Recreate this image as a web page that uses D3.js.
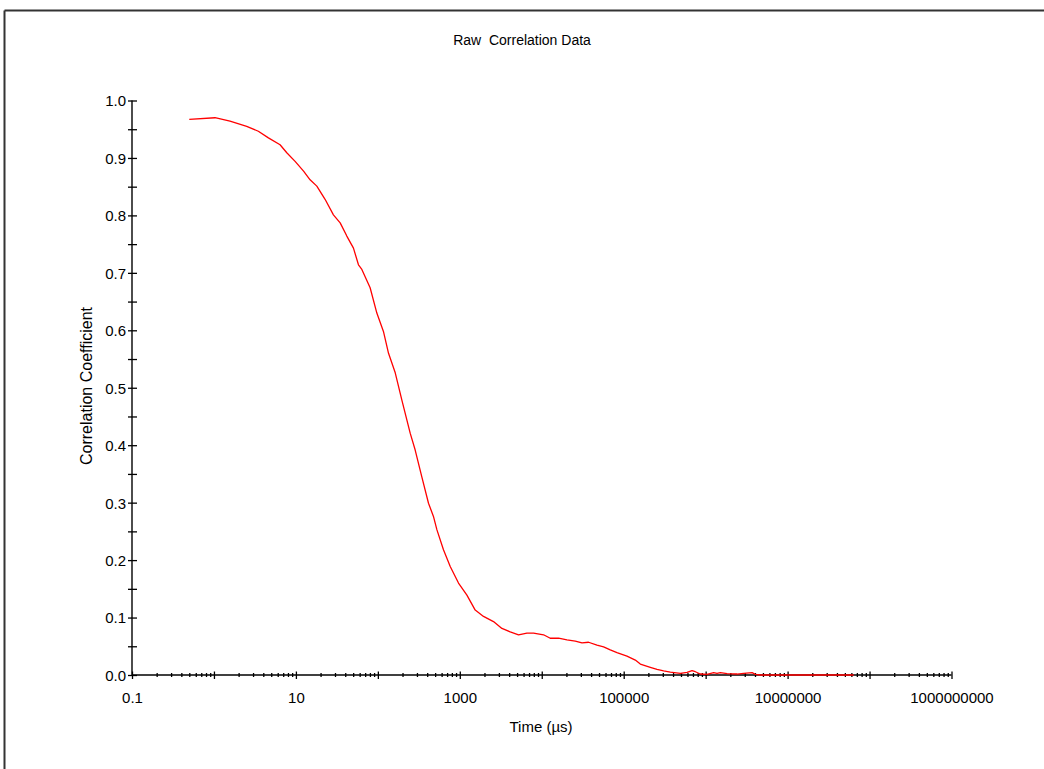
<!DOCTYPE html>
<html>
<head>
<meta charset="utf-8">
<script src="https://cdn.jsdelivr.net/npm/d3@7"></script>
<style>
  html, body { margin: 0; padding: 0; background: #fff; }
  svg { display: block; font-family: "Liberation Sans", Arial, sans-serif; }
</style>
</head>
<body>
<svg id="chart" width="1044" height="769"></svg>
<script>
// Delay times (µs) of the correlogram
const timeUs = [
  0.50, 1.03, 1.57, 2.51, 3.48, 4.62, 6.41, 7.74, 9.78, 12.4,
  14.9, 18.0, 22.7, 28.7, 34.7, 41.8, 50.4, 58.0, 63.8, 80.5,
  97.2, 117, 135, 163, 196, 248, 285, 344, 415, 477,
  525, 632, 764, 964, 1221, 1542, 1946, 2577, 3266, 4123,
  5212, 6592, 7943, 10520, 12700, 16030, 20320, 25650, 30970, 37240,
  47210, 56880, 68560, 82790, 109600, 138600, 159500, 211300, 255100, 306900,
  370700, 491000, 592900, 682300, 748200, 861000, 1040000, 1253000, 1377000, 1510000,
  1825000, 2416000, 2911000, 3687000, 4045000, 4650000, 7000000, 1.2e7, 2.2e7, 4.0e7,
  6.4e7
];
// Correlation coefficient at each delay time
const corrCoeff = [
  0.967, 0.970, 0.964, 0.955, 0.9465, 0.935, 0.923, 0.909, 0.894, 0.877,
  0.862, 0.851, 0.828, 0.801, 0.787, 0.764, 0.743, 0.714, 0.706, 0.674,
  0.630, 0.598, 0.560, 0.526, 0.479, 0.421, 0.392, 0.345, 0.299, 0.276,
  0.253, 0.218, 0.189, 0.160, 0.139, 0.113, 0.102, 0.093, 0.081, 0.075,
  0.070, 0.073, 0.073, 0.070, 0.064, 0.064, 0.061, 0.059, 0.056, 0.057,
  0.052, 0.049, 0.0436, 0.039, 0.033, 0.026, 0.019, 0.0134, 0.0099, 0.007,
  0.005, 0.003, 0.0047, 0.0075, 0.0057, 0.0017, 0.0012, 0.004, 0.003, 0.004,
  0.0023, 0.0017, 0.003, 0.004, 0.0012, 0.0, 0.0, 0.0, 0.0, 0.0,
  0.0
];
// Labelled x ticks (every second decade) and y tick values
const xTickLabels = [0.1, 10, 1000, 100000, 10000000, 1000000000];
const yMajorTicks = [0.0, 0.1, 0.2, 0.3, 0.4, 0.5, 0.6, 0.7, 0.8, 0.9, 1.0];
const yMinorTicks = [0.05, 0.15, 0.25, 0.35, 0.45, 0.55, 0.65, 0.75, 0.85, 0.95];

const svg = d3.select("#chart");

// Outer frame (top and left edges)
svg.append("line").attr("x1", 4.5).attr("y1", 10.5).attr("x2", 1044).attr("y2", 10.5)
  .attr("stroke", "#333").attr("stroke-width", 2);
svg.append("line").attr("x1", 4.5).attr("y1", 10.5).attr("x2", 4.5).attr("y2", 769)
  .attr("stroke", "#333").attr("stroke-width", 2);

const x = d3.scaleLog().domain([0.1, 1e9]).range([132, 951.5]);
const y = d3.scaleLinear().domain([0, 1]).range([675, 100.5]);

// All decade and sub-decade tick positions
const xAllTicks = [];
for (let e = -1; e < 9; e++) {
  for (let m = 1; m <= 9; m++) xAllTicks.push(m * Math.pow(10, e));
}
xAllTicks.push(1e9);
const isDecade = v => Math.abs(Math.log10(v) - Math.round(Math.log10(v))) < 1e-9;

// X axis
const gx = svg.append("g").attr("transform", `translate(0,${y(0)})`)
  .call(d3.axisBottom(x).tickValues(xAllTicks).tickSizeOuter(0));
gx.select(".domain").attr("stroke", "#000").attr("stroke-width", 1.4).attr("d", `M${x(0.1)},0H${x(1e9)}`);
gx.selectAll(".tick line").attr("stroke", "#000").attr("stroke-width", 1.3)
  .attr("y1", d => isDecade(d) ? -3.5 : -2)
  .attr("y2", d => isDecade(d) ? 4 : 2);
gx.selectAll(".tick text")
  .text(d => {
    const lab = xTickLabels.find(t => Math.abs(t - d) / t < 1e-9);
    return lab === undefined ? "" : String(lab);
  })
  .attr("y", 28).attr("dy", 0)
  .attr("font-size", 15).attr("font-family", "'Liberation Sans', Arial, sans-serif").attr("fill", "#000");

// Y axis
const gy = svg.append("g").attr("transform", `translate(${x(0.1)},0)`)
  .call(d3.axisLeft(y).tickValues(yMajorTicks.concat(yMinorTicks)).tickSizeOuter(0)
    .tickFormat(d => yMajorTicks.includes(d) ? d3.format(".1f")(d) : ""));
gy.select(".domain").attr("stroke", "#000").attr("stroke-width", 1.4).attr("d", `M0,${y(0)}V${y(1)}`);
gy.selectAll(".tick line").attr("stroke", "#000").attr("stroke-width", 1.3)
  .attr("x1", -4).attr("x2", 5);
gy.selectAll(".tick text")
  .attr("x", -6).attr("dy", "0.36em")
  .attr("font-size", 15).attr("font-family", "'Liberation Sans', Arial, sans-serif").attr("fill", "#000");

// Correlation curve
const points = timeUs.map((t, i) => [t, corrCoeff[i]]);
svg.append("path")
  .datum(points)
  .attr("fill", "none")
  .attr("stroke", "#ff0000")
  .attr("stroke-width", 1.3)
  .attr("stroke-linejoin", "round")
  .attr("d", d3.line().x(d => x(d[0])).y(d => y(d[1])));

// Titles
svg.append("text").attr("x", 522).attr("y", 45).attr("text-anchor", "middle")
  .attr("font-size", 14).attr("fill", "#000")
  .style("white-space", "pre").text("Raw  Correlation Data");
svg.append("text").attr("x", 541).attr("y", 732).attr("text-anchor", "middle")
  .attr("font-size", 15).attr("fill", "#000").text("Time (µs)");
svg.append("text").attr("transform", "translate(92,386) rotate(-90)").attr("text-anchor", "middle")
  .attr("font-size", 16).attr("fill", "#000").text("Correlation Coefficient");
</script>
</body>
</html>
